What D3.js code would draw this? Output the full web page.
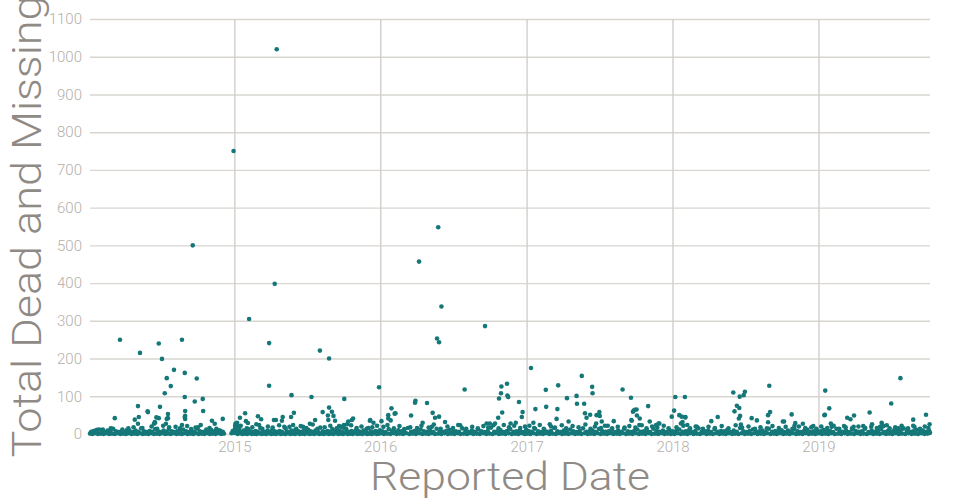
<!DOCTYPE html>
<html><head><meta charset="utf-8">
<script src="https://cdn.jsdelivr.net/npm/d3@7/dist/d3.min.js"></script>
<style>
body{margin:0;background:#fff;}
svg{display:block;}
text{font-family:Roboto,Lato,sans-serif;font-weight:300;}
</style></head><body>
<svg id="chart" width="960" height="500"></svg>
<script>
// ---- data: [day of year (0 = 1 Jan), total dead and missing] ----
const band2014 = [[4,1],[7,6],[10,0],[13,8],[17,2],[20,5],[24,0],[27,12],[31,1],[34,7],[38,0],[41,5],[45,2],[48,9],[52,0],[55,6],[59,1],[62,14],[66,0],[69,7],[73,2],[76,5],[80,0],[83,8],[87,1],[90,6],[94,0],[97,11],[101,2],[104,7],[108,0],[111,5],[115,1],[118,9],[122,0],[125,6],[129,2],[132,15],[136,0],[139,7],[143,1],[146,5],[150,0],[153,8],[157,2],[160,6],[164,0],[167,13],[171,1],[174,7],[178,0],[181,5],[185,2],[188,9],[192,0],[195,6],[199,1],[202,18],[206,0],[209,7],[213,2],[216,5],[220,0],[223,8],[227,1],[230,6],[234,0],[237,12],[241,2],[244,7],[248,0],[251,5],[255,1],[258,9],[262,0],[265,6],[269,2],[272,14],[276,0],[279,7],[283,1],[286,5],[290,0],[293,8],[297,2],[300,6],[304,0],[307,11],[311,1],[314,7],[318,0],[321,5],[325,2],[329,9],[332,0],[336,6],[339,1],[358,2],[361,8]];
const extra2014 = [[22,11],[58,14],[85,12],[113,18],[135,16],[158,20],[172,14],[187,22],[201,12],[218,19],[229,15],[247,21],[257,13],[268,17],[281,24],[295,12],[303,16],[320,14]];
const peaks2014 = [[79,250],[129,215],[176,240],[184,199],[214,170],[196,148],[206,127],[191,108],[234,250],[241,162],[271,147],[241,98],[266,86],[286,93],[287,61],[242,61],[149,58],[124,74],[179,72],[66,42],[126,45],[116,38],[124,27],[166,32],[164,27],[176,42],[199,53],[196,40],[194,27],[234,24],[241,45],[242,40],[309,35],[316,27],[336,40],[328,8],[274,18],[261,500],[363,750],[19,10],[36,12],[56,15],[100,15],[148,60],[167,30],[170,44],[199,42],[242,48],[332,6],[325,10]];

const band2015 = [[0,3],[1,12],[2,22],[3,28],[4,6],[6,17],[8,0],[11,7],[14,2],[17,5],[20,0],[23,9],[26,1],[29,6],[32,0],[35,13],[38,2],[41,7],[44,0],[47,5],[50,1],[53,8],[56,0],[59,6],[62,2],[65,16],[68,0],[71,7],[74,1],[77,5],[80,0],[83,9],[86,2],[89,6],[92,0],[95,12],[98,1],[101,7],[104,0],[107,5],[110,2],[113,8],[116,0],[119,6],[122,1],[125,19],[128,0],[131,7],[134,2],[137,5],[140,0],[143,9],[146,1],[149,6],[152,0],[155,14],[158,2],[161,7],[164,0],[167,5],[170,1],[173,8],[176,0],[179,6],[182,2],[185,11],[188,0],[191,7],[194,1],[197,5],[200,0],[203,9],[206,2],[209,6],[212,0],[215,17],[218,1],[221,7],[224,0],[227,5],[230,2],[233,8],[236,0],[239,6],[242,1],[245,13],[248,0],[251,7],[254,2],[257,5],[260,0],[263,9],[266,1],[269,6],[272,0],[275,15],[278,2],[281,7],[284,0],[287,5],[290,1],[293,8],[296,0],[299,6],[302,2],[305,12],[308,0],[311,7],[314,1],[317,5],[320,0],[323,9],[326,2],[329,6],[332,0],[335,16],[338,1],[341,7],[344,0],[347,5],[350,2],[353,8],[356,0],[359,6],[362,1],[364,10]];
const extra2015 = [[16,22],[31,15],[45,18],[55,26],[70,14],[84,20],[96,17],[112,23],[128,15],[138,19],[153,12],[166,21],[180,16],[196,25],[208,14],[226,18],[240,22],[256,15],[268,19],[280,13],[292,23],[306,16],[318,20],[331,14],[345,18],[357,22]];
const peaks2015 = [[106,1020],[101,398],[37,305],[87,241],[87,128],[143,103],[193,98],[214,221],[237,200],[275,93],[362,124],[14,43],[27,55],[29,34],[34,29],[59,47],[67,39],[62,24],[99,37],[104,37],[121,45],[119,35],[142,45],[149,56],[147,24],[172,19],[202,37],[189,27],[237,70],[244,59],[221,58],[234,49],[252,35],[297,41],[294,37],[339,35],[348,30],[5,25],[7,30],[9,20],[12,15],[3,18],[248,48],[235,37],[262,21],[274,24],[282,26],[340,37],[285,33]];

const band2016 = [[1,2],[5,7],[9,0],[13,5],[17,1],[21,13],[25,0],[29,8],[33,2],[37,6],[41,0],[45,10],[49,1],[53,7],[57,0],[61,5],[65,2],[69,16],[73,0],[77,6],[81,1],[85,8],[89,0],[93,5],[97,2],[101,12],[105,0],[109,7],[113,1],[117,6],[121,0],[125,9],[129,2],[133,5],[137,0],[141,14],[145,1],[149,7],[153,0],[157,6],[161,2],[165,8],[169,0],[173,11],[177,1],[181,5],[185,0],[189,7],[193,2],[197,6],[201,0],[205,15],[209,1],[213,8],[217,0],[221,5],[225,2],[229,9],[233,0],[237,6],[241,1],[245,12],[249,0],[253,7],[257,2],[261,5],[265,0],[269,8],[273,1],[277,17],[281,0],[285,6],[289,2],[293,7],[297,0],[301,10],[305,1],[309,5],[313,0],[317,8],[321,2],[325,13],[329,0],[333,6],[337,1],[341,7],[345,0],[349,9],[353,2],[357,5],[361,0],[365,11]];
const extra2016 = [[8,19],[18,24],[34,15],[48,21],[60,13],[75,18],[92,16],[103,22],[121,17],[134,25],[151,14],[168,20],[182,16],[200,23],[215,14],[230,19],[244,15],[258,21],[270,17],[283,23],[296,15],[309,24],[322,18],[335,22],[350,16],[362,20]];
const peaks2016 = [[145,548],[97,457],[153,338],[142,253],[147,243],[262,286],[211,118],[28,68],[36,54],[77,49],[88,88],[87,83],[117,82],[131,56],[137,43],[147,46],[162,32],[106,30],[20,41],[26,36],[3,34],[20,50],[38,55],[129,19],[195,24],[303,126],[317,133],[302,108],[318,102],[320,98],[297,94],[305,57],[295,43],[347,85],[356,58],[354,45],[339,30],[266,28],[274,28],[287,28],[326,28]];

const band2017 = [[1,1],[5,8],[9,0],[13,6],[17,2],[21,14],[25,0],[29,7],[33,1],[37,5],[41,0],[45,10],[49,2],[53,6],[57,0],[61,8],[65,1],[69,16],[73,0],[77,7],[81,2],[85,5],[89,0],[93,9],[97,1],[101,6],[105,0],[109,12],[113,2],[117,7],[121,0],[125,5],[129,1],[133,8],[137,0],[141,15],[145,2],[149,6],[153,0],[157,7],[161,1],[165,9],[169,0],[173,5],[177,2],[181,13],[185,0],[189,8],[193,1],[197,6],[201,0],[205,7],[209,2],[213,11],[217,0],[221,5],[225,1],[229,9],[233,0],[237,6],[241,2],[245,17],[249,0],[253,7],[257,1],[261,5],[265,0],[269,8],[273,2],[277,12],[281,0],[285,6],[289,1],[293,7],[297,0],[301,10],[305,2],[309,5],[313,0],[317,14],[321,1],[325,8],[329,0],[333,6],[337,2],[341,9],[345,0],[349,5],[353,1],[357,11],[361,0],[364,7]];
const extra2017 = [[7,22],[19,16],[33,24],[43,14],[61,20],[71,17],[88,23],[99,15],[115,21],[130,18],[147,25],[160,14],[171,20],[186,16],[203,22],[214,15],[228,19],[244,14],[257,21],[272,17],[288,23],[300,15],[314,20],[327,17],[343,22],[355,15]];
const peaks2017 = [[11,175],[48,117],[79,129],[138,154],[164,125],[165,108],[240,118],[261,96],[101,95],[125,101],[126,80],[144,80],[49,72],[22,66],[77,66],[75,40],[17,30],[58,26],[105,33],[146,55],[150,43],[159,51],[175,50],[182,58],[183,48],[188,33],[196,22],[218,34],[262,37],[271,64],[266,59],[276,49],[174,28],[268,62],[275,65],[263,35],[304,74],[308,33],[282,24],[332,28],[330,28],[324,24],[283,41],[363,46]];

const band2018 = [[1,5],[5,0],[9,8],[13,2],[17,12],[21,0],[25,6],[29,1],[33,7],[37,0],[41,10],[45,2],[49,5],[53,0],[57,8],[61,1],[65,15],[69,0],[73,6],[77,2],[81,7],[85,0],[89,9],[93,1],[97,5],[101,0],[105,13],[109,2],[113,6],[117,0],[121,8],[125,1],[129,7],[133,0],[137,11],[141,2],[145,5],[149,0],[153,9],[157,1],[161,6],[165,0],[169,16],[173,2],[177,7],[181,0],[185,5],[189,1],[193,8],[197,0],[201,12],[205,2],[209,6],[213,0],[217,7],[221,1],[225,9],[229,0],[233,5],[237,2],[241,14],[245,0],[249,6],[253,1],[257,8],[261,0],[265,7],[269,2],[273,10],[277,0],[281,5],[285,1],[289,9],[293,0],[297,6],[301,2],[305,13],[309,0],[313,7],[317,1],[321,5],[325,0],[329,8],[333,2],[337,11],[341,0],[345,6],[349,1],[353,7],[357,0],[361,9],[364,2]];
const extra2018 = [[10,18],[27,22],[44,15],[58,20],[76,14],[90,19],[106,16],[123,21],[140,15],[158,23],[174,17],[190,20],[206,14],[220,18],[236,15],[250,21],[266,16],[283,19],[300,14],[316,20],[332,16],[347,18],[360,14]];
const peaks2018 = [[7,98],[31,98],[4,62],[17,50],[32,45],[25,32],[21,28],[37,24],[61,19],[97,34],[113,45],[152,110],[168,99],[178,103],[181,112],[161,75],[167,69],[155,60],[169,48],[166,41],[171,25],[198,42],[211,36],[242,128],[244,58],[239,50],[239,31],[276,33],[279,33],[298,52],[307,29],[305,22],[326,27],[352,21],[23,46],[32,44]];

const band2019 = [[1,2],[5,7],[9,0],[13,11],[17,1],[21,6],[25,0],[29,8],[33,2],[37,5],[41,0],[45,14],[49,1],[53,7],[57,0],[61,6],[65,2],[69,9],[73,0],[77,5],[81,1],[85,12],[89,0],[93,8],[97,2],[101,6],[105,0],[109,7],[113,1],[117,16],[121,0],[125,5],[129,2],[133,9],[137,0],[141,6],[145,1],[149,7],[153,0],[157,13],[161,2],[165,5],[169,0],[173,8],[177,1],[181,6],[185,0],[189,10],[193,2],[197,7],[201,0],[205,5],[209,1],[213,15],[217,0],[221,8],[225,2],[229,6],[233,0],[237,7],[241,1],[245,11],[249,0],[253,5],[257,2],[261,9],[265,0],[269,6],[273,1],[277,8],[279,3]];
const extra2019 = [[7,20],[22,16],[38,22],[52,14],[68,18],[84,15],[100,20],[116,14],[132,19],[146,16],[163,21],[178,15],[192,18],[208,22],[224,15],[240,19],[254,14],[266,20],[275,16]];
const peaks2019 = [[17,115],[27,68],[16,51],[31,28],[33,19],[64,21],[72,43],[80,39],[89,49],[128,57],[134,26],[158,30],[171,23],[182,81],[205,148],[237,38],[237,22],[269,51],[278,26],[198,14],[210,14],[112,21],[160,24],[201,13],[88,19],[154,19],[200,15],[15,50]];

const years = [2014, 2015, 2016, 2017, 2018, 2019];
const yearBands = [band2014, band2015, band2016, band2017, band2018, band2019];
const yearExtras = [extra2014, extra2015, extra2016, extra2017, extra2018, extra2019];
const yearPeaks = [peaks2014, peaks2015, peaks2016, peaks2017, peaks2018, peaks2019];
const xTickLabels = ["2015", "2016", "2017", "2018", "2019"];
const yTickValues = [0, 100, 200, 300, 400, 500, 600, 700, 800, 900, 1000, 1100];
const xTitle = "Reported Date";
const yTitle = "Total Dead and Missing";

// ---- build records ----
const data = [];
years.forEach((yr, i) => {
  yearBands[i].concat(yearExtras[i], yearPeaks[i]).forEach(([d, v]) => {
    data.push({ date: new Date(Date.UTC(yr, 0, 1 + d)), total: v });
  });
});

const W = 960, H = 500;
const margin = { top: 19, right: 30, bottom: 66, left: 90 };
const width = W - margin.left - margin.right;
const height = H - margin.top - margin.bottom;

const svg = d3.select("#chart");
const g = svg.append("g").attr("transform", `translate(${margin.left},${margin.top})`);

const x = d3.scaleUtc().domain(d3.extent(data, d => d.date)).range([0, width]);
const y = d3.scaleLinear().domain([0, 1100]).range([height, 0]);

// y grid + labels
const gy = g.append("g")
  .call(d3.axisLeft(y).tickValues(yTickValues).tickFormat(d3.format("d"))
    .tickSize(-width).tickPadding(8));
gy.select(".domain").remove();
gy.selectAll(".tick line").attr("stroke", "#d9d6d1").attr("stroke-width", 1.4);
gy.selectAll(".tick text").attr("fill", "#b3afab").style("font-size", "15px")
  .style("font-family", "Roboto, Lato, sans-serif").style("font-weight", 300);

// x grid + labels
const gx = g.append("g").attr("transform", `translate(0,${height})`)
  .call(d3.axisBottom(x)
    .tickValues(xTickLabels.map(s => new Date(Date.UTC(+s, 0, 1))))
    .tickFormat(d3.utcFormat("%Y"))
    .tickSize(-height).tickPadding(7));
gx.select(".domain").remove();
gx.selectAll(".tick line").attr("stroke", "#d2cfca").attr("stroke-width", 1.4);
gx.selectAll(".tick text").attr("fill", "#b3afab").style("font-size", "15px")
  .style("font-family", "Roboto, Lato, sans-serif").style("font-weight", 300);

// dots
g.append("g").selectAll("circle").data(data).join("circle")
  .attr("cx", d => x(d.date))
  .attr("cy", d => y(d.total))
  .attr("r", 2.3)
  .attr("fill", "#157778");

// axis titles
svg.append("text")
  .attr("x", margin.left + width / 2).attr("y", 490)
  .attr("text-anchor", "middle")
  .attr("fill", "#8f8a85")
  .style("font-size", "38px")
  .attr("textLength", 280).attr("lengthAdjust", "spacingAndGlyphs")
  .text(xTitle);

svg.append("text")
  .attr("transform", `translate(41,${margin.top + height / 2}) rotate(-90)`)
  .attr("text-anchor", "middle")
  .attr("fill", "#8f8a85")
  .style("font-size", "40px")
  .attr("textLength", 462).attr("lengthAdjust", "spacingAndGlyphs")
  .text(yTitle);
</script>
</body></html>
